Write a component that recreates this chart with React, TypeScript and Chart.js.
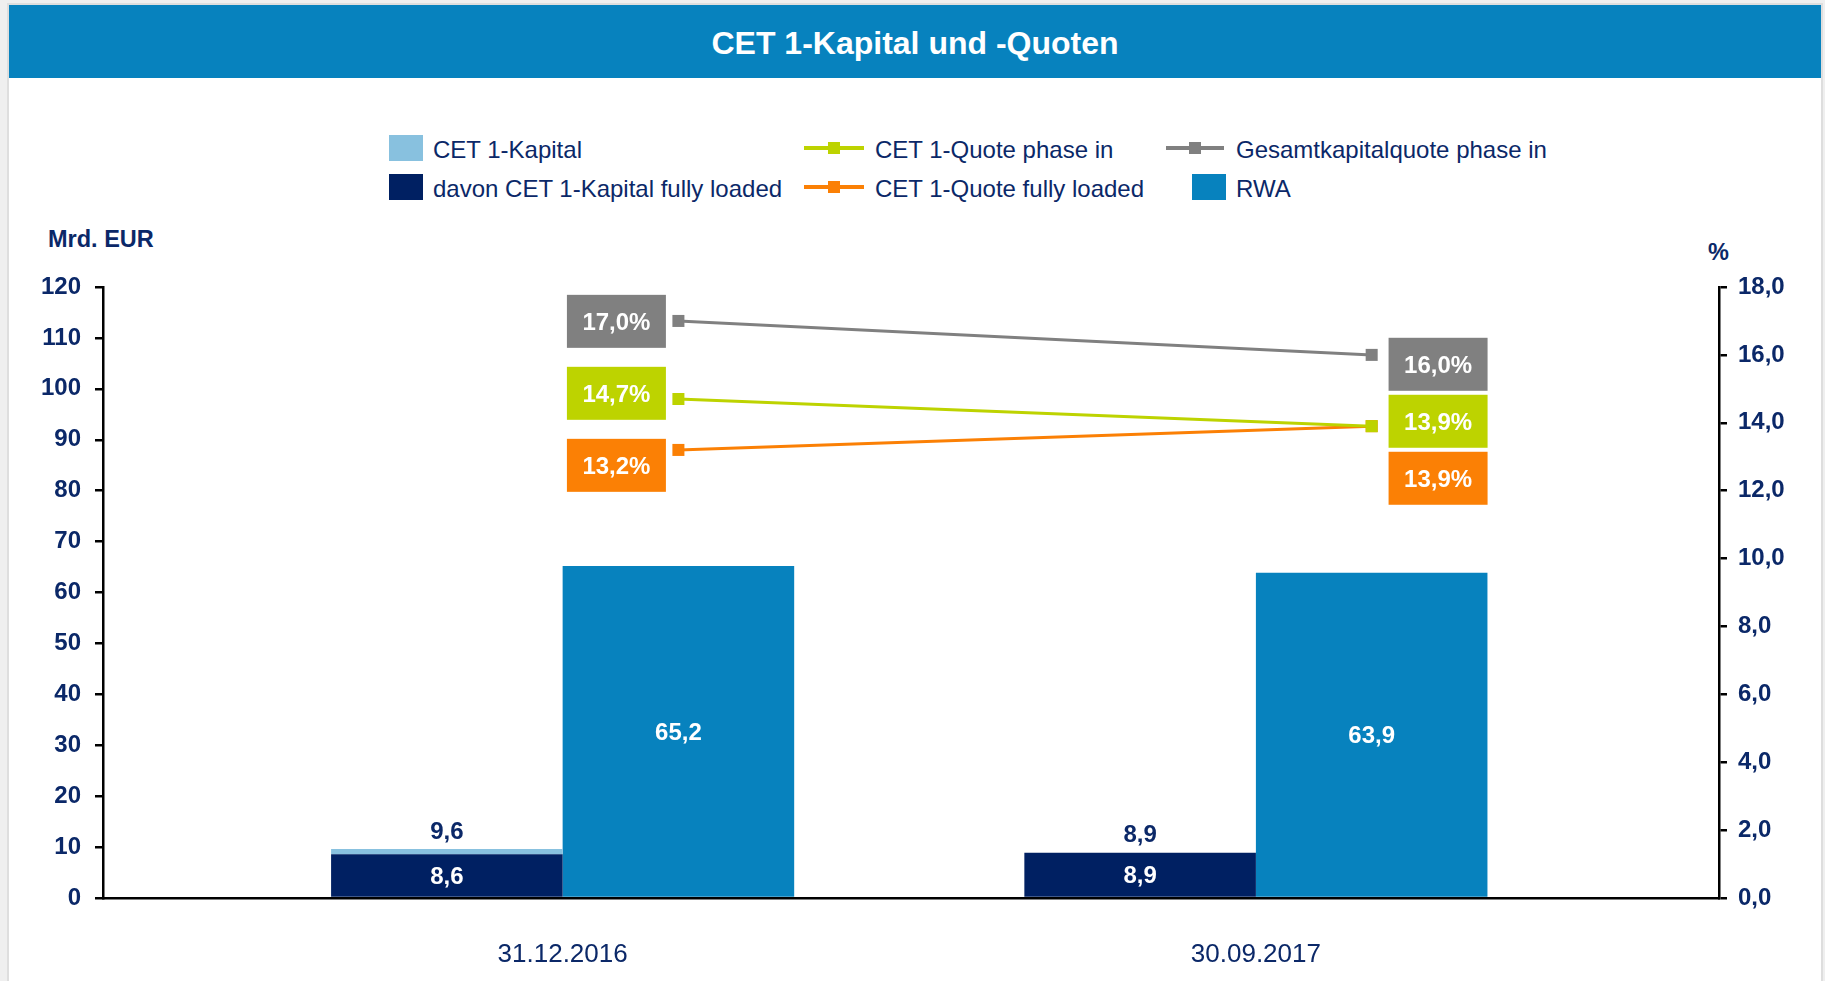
import React, { useEffect, useRef } from 'react';
import { Chart, registerables } from 'chart.js';

Chart.register(...registerables);

// ---------- data ----------
const categories = ['31.12.2016', '30.09.2017'];
const cet1Kapital = [9.6, 8.9];
const cet1KapitalFullyLoaded = [8.6, 8.9];
const rwa = [65.2, 63.9];
const cet1QuotePhaseIn = [14.7, 13.9];
const cet1QuoteFullyLoaded = [13.2, 13.9];
const gesamtkapitalquotePhaseIn = [17.0, 16.0];

// ---------- styles ----------
const FONT = '"Liberation Sans", Arial, Helvetica, sans-serif';
const NAVY_TEXT = '#0b2868';
const C_LIGHT = '#88c1df';
const C_DARK = '#002062';
const C_RWA = '#0782be';
const C_GREEN = '#bdd300';
const C_ORANGE = '#fb8005';
const C_GRAY = '#808080';

const X_MIN = -0.663;
const X_MAX = 1.668;
const CAT_PCT = 0.668; // width of the bar pair relative to category spacing
const SHIFT = CAT_PCT / 4; // half a bar, in category units

const fmt = (v: number) => v.toFixed(1).replace('.', ',');

const valueLabelPlugin = {
  id: 'valueLabels',
  afterDatasetsDraw(chart: any) {
    const ctx = chart.ctx;
    ctx.save();
    ctx.font = `bold 24px ${FONT}`;
    ctx.textAlign = 'center';
    ctx.textBaseline = 'middle';
    chart.data.datasets.forEach((ds: any, di: number) => {
      const lab = ds.valueLabel;
      if (!lab) return;
      const meta = chart.getDatasetMeta(di);
      meta.data.forEach((el: any, i: number) => {
        const text = fmt(lab.values[i]) + (lab.suffix || '');
        if (lab.mode === 'inside') {
          ctx.fillStyle = lab.color;
          ctx.fillText(text, el.x, (el.y + el.base) / 2 + 2);
        } else if (lab.mode === 'above') {
          ctx.fillStyle = lab.color;
          ctx.fillText(text, el.x, el.y - lab.gap);
        } else if (lab.mode === 'box') {
          const [dx, dy] = lab.offsets[i];
          const cx = el.x + dx;
          const cy = el.y + dy;
          ctx.fillStyle = lab.boxColor;
          ctx.fillRect(cx - lab.w / 2, cy - lab.h / 2, lab.w, lab.h);
          ctx.fillStyle = '#ffffff';
          ctx.fillText(text, cx, cy + 2);
        }
      });
    });
    ctx.restore();
  },
};

type LegendItem = {
  label: string;
  kind: 'box' | 'line';
  color: string;
  sx: number;
  sw: number;
  tx: number;
  cy: number;
};

const ROW1 = 148;
const ROW2 = 187;

const legendItems: LegendItem[] = [
  { label: 'CET 1-Kapital', kind: 'box', color: C_LIGHT, sx: 389, sw: 34, tx: 433, cy: ROW1 },
  { label: 'CET 1-Quote phase in', kind: 'line', color: C_GREEN, sx: 804, sw: 60, tx: 875, cy: ROW1 },
  { label: 'Gesamtkapitalquote phase in', kind: 'line', color: C_GRAY, sx: 1166, sw: 58, tx: 1236, cy: ROW1 },
  { label: 'davon CET 1-Kapital fully loaded', kind: 'box', color: C_DARK, sx: 389, sw: 34, tx: 433, cy: ROW2 },
  { label: 'CET 1-Quote fully loaded', kind: 'line', color: C_ORANGE, sx: 804, sw: 60, tx: 875, cy: ROW2 },
  { label: 'RWA', kind: 'box', color: C_RWA, sx: 1192, sw: 34, tx: 1236, cy: ROW2 },
];

const hiddenAxis = (shift: number) =>
  ({
    type: 'linear',
    axis: 'x',
    display: false,
    min: X_MIN - shift,
    max: X_MAX - shift,
    offset: false,
    afterBuildTicks: (s: any) => {
      s.ticks = categories.map((_, i) => ({ value: i }));
    },
  }) as any;

export default function App() {
  const ref = useRef<HTMLCanvasElement>(null);

  useEffect(() => {
    if (!ref.current) return;
    Chart.defaults.font.family = FONT;
    const toXY = (arr: number[]) => arr.map((v, i) => ({ x: i, y: v }));
    const barCommon = {
      type: 'bar' as const,
      yAxisID: 'y',
      grouped: false,
      categoryPercentage: CAT_PCT,
      barPercentage: 0.5,
      borderWidth: 0,
    };
    const lineCommon = {
      type: 'line' as const,
      xAxisID: 'xr',
      yAxisID: 'y1',
      borderWidth: 3,
      tension: 0,
      pointStyle: 'rect',
      pointRadius: 8.5,
      pointHoverRadius: 8.5,
      pointBorderWidth: 0,
      fill: false,
    };
    const chart = new Chart(ref.current, {
      type: 'bar',
      data: {
        datasets: [
          {
            ...barCommon,
            label: 'davon CET 1-Kapital fully loaded',
            data: toXY(cet1KapitalFullyLoaded),
            backgroundColor: C_DARK,
            stack: 'kapital',
            xAxisID: 'xk',
            valueLabel: { mode: 'inside', color: '#ffffff', values: cet1KapitalFullyLoaded },
          } as any,
          {
            ...barCommon,
            label: 'CET 1-Kapital',
            data: cet1Kapital.map((v, i) => ({ x: i, y: +(v - cet1KapitalFullyLoaded[i]).toFixed(1) })),
            backgroundColor: C_LIGHT,
            stack: 'kapital',
            xAxisID: 'xk',
            valueLabel: { mode: 'above', color: NAVY_TEXT, values: cet1Kapital, gap: 17 },
          } as any,
          {
            ...barCommon,
            label: 'RWA',
            data: toXY(rwa),
            backgroundColor: C_RWA,
            stack: 'rwa',
            xAxisID: 'xr',
            valueLabel: { mode: 'inside', color: '#ffffff', values: rwa },
          } as any,
          {
            ...lineCommon,
            label: 'Gesamtkapitalquote phase in',
            data: toXY(gesamtkapitalquotePhaseIn),
            borderColor: C_GRAY,
            backgroundColor: C_GRAY,
            pointBackgroundColor: C_GRAY,
            valueLabel: {
              mode: 'box', values: gesamtkapitalquotePhaseIn, suffix: '%', boxColor: C_GRAY,
              w: 99, h: 53, offsets: [[-62, 0.4], [66.4, 9.4]],
            },
          } as any,
          {
            ...lineCommon,
            label: 'CET 1-Quote phase in',
            data: toXY(cet1QuotePhaseIn),
            borderColor: C_GREEN,
            backgroundColor: C_GREEN,
            pointBackgroundColor: C_GREEN,
            valueLabel: {
              mode: 'box', values: cet1QuotePhaseIn, suffix: '%', boxColor: C_GREEN,
              w: 99, h: 53, offsets: [[-62, -5.7], [66.4, -4.9]],
            },
          } as any,
          {
            ...lineCommon,
            label: 'CET 1-Quote fully loaded',
            data: toXY(cet1QuoteFullyLoaded),
            borderColor: C_ORANGE,
            backgroundColor: C_ORANGE,
            pointBackgroundColor: C_ORANGE,
            valueLabel: {
              mode: 'box', values: cet1QuoteFullyLoaded, suffix: '%', boxColor: C_ORANGE,
              w: 99, h: 53, offsets: [[-62, 15.4], [66.4, 52.1]],
            },
          } as any,
        ],
      },
      options: {
        responsive: false,
        animation: false,
        events: [],
        layout: { padding: { top: 287, left: 0, right: 0, bottom: 0 } },
        plugins: {
          legend: { display: false },
          title: { display: false },
          tooltip: { enabled: false },
        },
        scales: {
          x: {
            type: 'linear',
            axis: 'x',
            position: 'bottom',
            min: X_MIN,
            max: X_MAX,
            offset: false,
            grid: { display: false, offset: false, drawTicks: false },
            border: { display: true, color: '#000000', width: 2.5 },
            afterBuildTicks: (s: any) => {
              s.ticks = categories.map((_, i) => ({ value: i }));
            },
            afterFit: (s: any) => {
              s.height = 83;
            },
            ticks: {
              autoSkip: false,
              maxRotation: 0,
              padding: 41,
              color: NAVY_TEXT,
              font: { size: 26, family: FONT },
              callback: (v: any) => categories[v as number] ?? '',
            },
          } as any,
          xk: hiddenAxis(-SHIFT),
          xr: hiddenAxis(SHIFT),
          y: {
            type: 'linear',
            axis: 'y',
            position: 'left',
            min: 0,
            max: 120,
            grid: { display: true, drawOnChartArea: false, drawTicks: true, tickLength: 8, color: '#000000', lineWidth: 2.5 },
            border: { display: true, color: '#000000', width: 2.5 },
            afterFit: (s: any) => {
              s.width = 103;
            },
            ticks: {
              stepSize: 10,
              padding: 14,
              color: NAVY_TEXT,
              font: { size: 24, weight: 'bold', family: FONT },
            },
          } as any,
          y1: {
            type: 'linear',
            axis: 'y',
            position: 'right',
            min: 0,
            max: 18,
            grid: { display: true, drawOnChartArea: false, drawTicks: true, tickLength: 8, color: '#000000', lineWidth: 2.5 },
            border: { display: true, color: '#000000', width: 2.5 },
            afterFit: (s: any) => {
              s.width = 106;
            },
            ticks: {
              stepSize: 2,
              padding: 11,
              color: NAVY_TEXT,
              font: { size: 24, weight: 'bold', family: FONT },
              callback: (v: any) => fmt(Number(v)),
            },
          } as any,
        },
      } as any,
      plugins: [valueLabelPlugin],
    });
    return () => chart.destroy();
  }, []);

  return (
    <div
      style={{
        position: 'absolute',
        left: 0,
        top: 0,
        width: 1825,
        height: 981,
        background: '#efefef',
        overflow: 'hidden',
        fontFamily: FONT,
      }}
    >
      <div
        style={{
          position: 'absolute',
          left: 7,
          top: 3,
          width: 1816,
          height: 1000,
          background: '#ffffff',
          border: '2px solid #dedede',
          boxSizing: 'border-box',
        }}
      />
      <div
        style={{
          position: 'absolute',
          left: 9,
          top: 5,
          width: 1812,
          height: 73,
          background: C_RWA,
          color: '#ffffff',
          fontWeight: 'bold',
          fontSize: 32,
          lineHeight: '76px',
          textAlign: 'center',
          whiteSpace: 'nowrap',
        }}
      >
        CET 1-Kapital und -Quoten
      </div>

      {legendItems.map((it) => (
        <React.Fragment key={it.label}>
          {it.kind === 'box' ? (
            <div
              style={{
                position: 'absolute',
                left: it.sx,
                top: it.cy - 13,
                width: it.sw,
                height: 26,
                background: it.color,
              }}
            />
          ) : (
            <div style={{ position: 'absolute', left: it.sx, top: it.cy - 8, width: it.sw, height: 16 }}>
              <div style={{ position: 'absolute', left: 0, top: 6, width: it.sw, height: 4, background: it.color }} />
              <div
                style={{
                  position: 'absolute',
                  left: it.sw / 2 - 6,
                  top: 2,
                  width: 12,
                  height: 12,
                  background: it.color,
                }}
              />
            </div>
          )}
          <div
            style={{
              position: 'absolute',
              left: it.tx,
              top: it.cy - 13,
              height: 28,
              lineHeight: '30px',
              fontSize: 24,
              color: NAVY_TEXT,
              whiteSpace: 'nowrap',
            }}
          >
            {it.label}
          </div>
        </React.Fragment>
      ))}

      <div
        style={{
          position: 'absolute',
          left: 48,
          top: 239 - 14,
          lineHeight: '28px',
          fontSize: 23.5,
          fontWeight: 'bold',
          color: NAVY_TEXT,
          whiteSpace: 'nowrap',
        }}
      >
        Mrd. EUR
      </div>
      <div
        style={{
          position: 'absolute',
          left: 1708,
          top: 252 - 14,
          lineHeight: '28px',
          fontSize: 23.5,
          fontWeight: 'bold',
          color: NAVY_TEXT,
          whiteSpace: 'nowrap',
        }}
      >
        %
      </div>

      <canvas
        ref={ref}
        width={1825}
        height={981}
        style={{ position: 'absolute', left: 0, top: 0, width: 1825, height: 981, display: 'block' }}
      />
    </div>
  );
}
